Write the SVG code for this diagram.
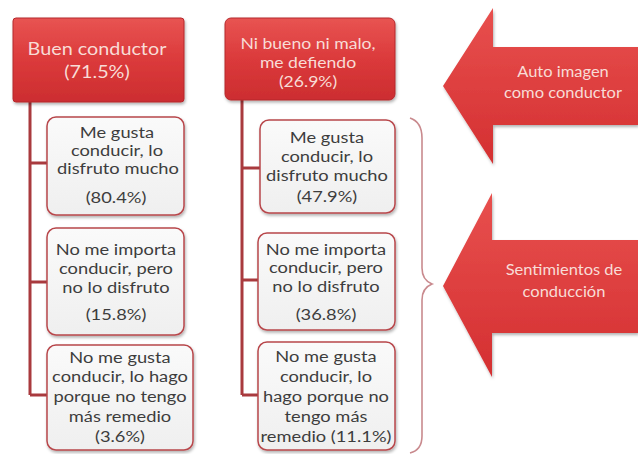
<svg xmlns="http://www.w3.org/2000/svg" width="638" height="454" viewBox="0 0 638 454">
<defs>
<linearGradient id="gRed" x1="0" y1="0" x2="0" y2="1">
<stop offset="0" stop-color="#e85452"/>
<stop offset="0.5" stop-color="#db3a3b"/>
<stop offset="1" stop-color="#cc2d30"/>
</linearGradient>
<linearGradient id="gArrow" x1="0" y1="0" x2="0" y2="1">
<stop offset="0" stop-color="#e8504e"/>
<stop offset="1" stop-color="#d42f31"/>
</linearGradient>
<linearGradient id="gBox" x1="0" y1="0" x2="0" y2="1">
<stop offset="0" stop-color="#fafafa"/>
<stop offset="1" stop-color="#efefef"/>
</linearGradient>
<filter id="sh" x="-10%" y="-10%" width="125%" height="130%">
<feDropShadow dx="1" dy="2" stdDeviation="1.5" flood-color="#000" flood-opacity="0.3"/>
</filter>
</defs>
<style>
.head{fill:url(#gRed);stroke:#b5282c;stroke-width:1;filter:url(#sh)}
.sub{fill:url(#gBox);stroke:#b8474b;stroke-width:1.5;filter:url(#sh)}
.arrow{fill:url(#gArrow);filter:url(#sh)}
.conn{fill:none;stroke:#a93a3e;stroke-width:3}
.brace{fill:none;stroke:#c98a8e;stroke-width:1.6}
text{font-family:Lato,"Open Sans","Liberation Sans",sans-serif;text-anchor:middle;transform-box:fill-box;transform-origin:center}
.ht{fill:#f8dcd6;font-size:18px;transform:scaleX(1.1)}
.ht2{fill:#f8dcd6;font-size:16px;transform:scaleX(1.1)}
.st{fill:#3d3d3d;font-size:15px;transform:scaleX(1.22)}
.at{fill:#f8dcd6;font-size:15px;transform:scaleX(1.1)}
</style>
<g id="connectors">
<path class="conn" d="M30,102 V395 M30,163 H47 M30,282 H47 M30,395 H47"/>
<path class="conn" d="M242,100 V395 M242,168 H260 M242,280 H258 M242,395 H258"/>
<path class="brace" d="M410,118 Q422,122 422,138 V268 Q422,280 432,284 Q422,288 422,300 V436 Q422,450 410,453"/>
</g>
<g id="buen">
<rect class="head" x="13" y="18" width="171" height="84" rx="3"/>
<text class="ht" x="97" y="55">Buen conductor</text>
<text class="ht" x="97" y="78">(71.5%)</text>
</g>
<g id="nibueno">
<rect class="head" x="225" y="18" width="170" height="82" rx="6"/>
<text class="ht2" x="308" y="49">Ni bueno ni malo,</text>
<text class="ht2" x="308" y="68">me defiendo</text>
<text class="ht2" x="308" y="87">(26.9%)</text>
</g>
<g id="b1a">
<rect class="sub" x="47" y="117" width="137" height="98" rx="9"/>
<text class="st" x="117" y="138">Me gusta</text>
<text class="st" x="117" y="156">conducir, lo</text>
<text class="st" x="118" y="174">disfruto mucho</text>
<text class="st" x="116" y="203">(80.4%)</text>
</g>
<g id="b1b">
<rect class="sub" x="47" y="228" width="137" height="107" rx="9"/>
<text class="st" x="116" y="255">No me importa</text>
<text class="st" x="116" y="274">conducir, pero</text>
<text class="st" x="116" y="293">no lo disfruto</text>
<text class="st" x="116" y="320">(15.8%)</text>
</g>
<g id="b1c">
<rect class="sub" x="47" y="345" width="146" height="105" rx="9"/>
<text class="st" x="120" y="363">No me gusta</text>
<text class="st" x="120" y="382">conducir, lo hago</text>
<text class="st" x="120" y="402">porque no tengo</text>
<text class="st" x="120" y="422">más remedio</text>
<text class="st" x="120" y="442">(3.6%)</text>
</g>
<g id="b2a">
<rect class="sub" x="260" y="120" width="135" height="93" rx="9"/>
<text class="st" x="327" y="143">Me gusta</text>
<text class="st" x="327" y="162">conducir, lo</text>
<text class="st" x="327" y="181">disfruto mucho</text>
<text class="st" x="327" y="202">(47.9%)</text>
</g>
<g id="b2b">
<rect class="sub" x="258" y="233" width="137" height="97" rx="9"/>
<text class="st" x="326" y="255">No me importa</text>
<text class="st" x="326" y="273">conducir, pero</text>
<text class="st" x="326" y="292">no lo disfruto</text>
<text class="st" x="326" y="320">(36.8%)</text>
</g>
<g id="b2c">
<rect class="sub" x="258" y="342" width="137" height="108" rx="9"/>
<text class="st" x="326" y="362">No me gusta</text>
<text class="st" x="326" y="382">conducir, lo</text>
<text class="st" x="326" y="402">hago porque no</text>
<text class="st" x="326" y="422">tengo más</text>
<text class="st" x="326" y="442">remedio (11.1%)</text>
</g>
<g id="arrow1">
<path class="arrow" d="M443,86 L493,8 V47 H638 V125 H493 V164 Z"/>
<text class="at" x="563" y="77">Auto imagen</text>
<text class="at" x="563" y="98">como conductor</text>
</g>
<g id="arrow2">
<path class="arrow" d="M443,286 L492,193 V240 H638 V333 H492 V377 Z"/>
<text class="at" x="564" y="275">Sentimientos de</text>
<text class="at" x="564" y="297">conducción</text>
</g>
</svg>
